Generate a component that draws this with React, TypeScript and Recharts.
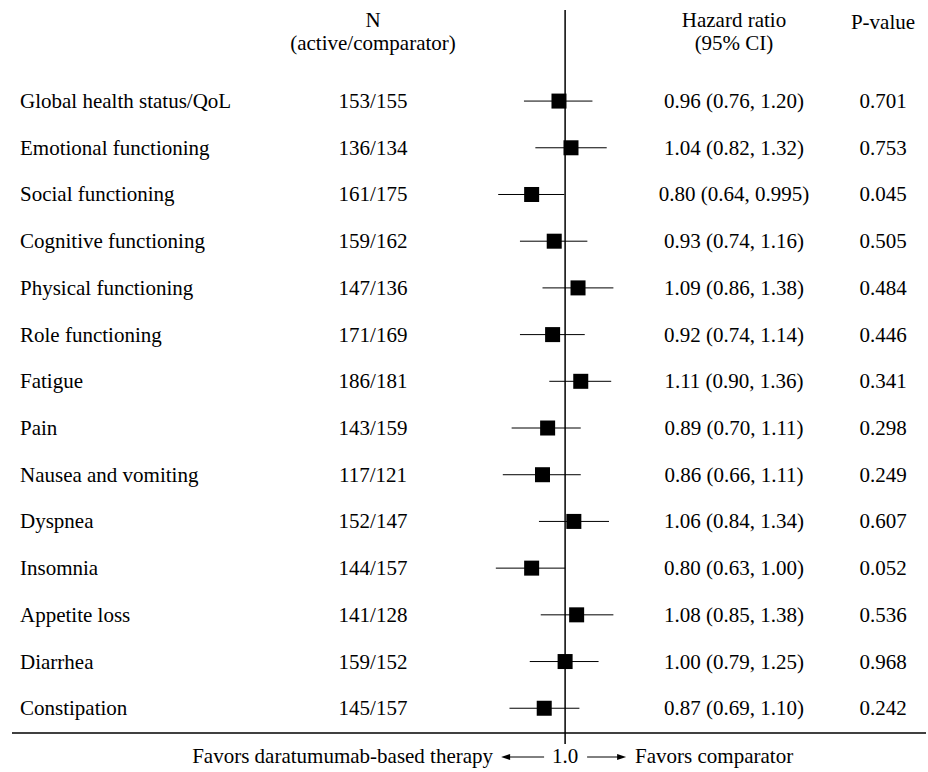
import React from 'react';
import { ScatterChart, Scatter, XAxis, YAxis, ErrorBar, ReferenceLine } from 'recharts';

const labels = [
  'Global health status/QoL',
  'Emotional functioning',
  'Social functioning',
  'Cognitive functioning',
  'Physical functioning',
  'Role functioning',
  'Fatigue',
  'Pain',
  'Nausea and vomiting',
  'Dyspnea',
  'Insomnia',
  'Appetite loss',
  'Diarrhea',
  'Constipation',
];
const nCounts = [
  '153/155', '136/134', '161/175', '159/162', '147/136', '171/169', '186/181',
  '143/159', '117/121', '152/147', '144/157', '141/128', '159/152', '145/157',
];
const hazard = [0.96, 1.04, 0.8, 0.93, 1.09, 0.92, 1.11, 0.89, 0.86, 1.06, 0.8, 1.08, 1.0, 0.87];
const lower = [0.76, 0.82, 0.64, 0.74, 0.86, 0.74, 0.9, 0.7, 0.66, 0.84, 0.63, 0.85, 0.79, 0.69];
const upper = [1.2, 1.32, 0.995, 1.16, 1.38, 1.14, 1.36, 1.11, 1.11, 1.34, 1.0, 1.38, 1.25, 1.1];
const pValues = [
  '0.701', '0.753', '0.045', '0.505', '0.484', '0.446', '0.341',
  '0.298', '0.249', '0.607', '0.052', '0.536', '0.968', '0.242',
];

const FONT = '"Liberation Serif", "Times New Roman", serif';
const TXT = { fontFamily: FONT, fontSize: 21, fill: '#000' };

// two decimals unless the value needs three (0.995)
const fmt = (v: number) => {
  const s = v.toFixed(3);
  return s.endsWith('0') ? v.toFixed(2) : s;
};

const rows = labels.map((name, i) => ({
  name,
  row: i,
  hr: hazard[i],
  ci: [hazard[i] - lower[i], upper[i] - hazard[i]],
}));

const COL_LABEL = 20;
const COL_N = 373;
const COL_HR = 734;
const COL_P = 883;

// table text for one row, placed on the row's y from the scale
function RowText({ cy, payload }: any) {
  const i = payload.row;
  const base = cy + 7;
  return (
    <g>
      <text x={COL_LABEL} y={base} textAnchor="start" style={TXT}>{labels[i]}</text>
      <text x={COL_N} y={base} textAnchor="middle" style={TXT}>{nCounts[i]}</text>
      <text x={COL_HR} y={base} textAnchor="middle" style={TXT}>
        {`${fmt(hazard[i])} (${fmt(lower[i])}, ${fmt(upper[i])})`}
      </text>
      <text x={COL_P} y={base} textAnchor="middle" style={TXT}>{pValues[i]}</text>
    </g>
  );
}

function FavorsTick({ x, y }: any) {
  const base = y + 17;
  const ay = base - 6;
  return (
    <g>
      <text x={x - 72} y={base} textAnchor="end" style={TXT}>Favors daratumumab-based therapy</text>
      <line x1={x - 21} y1={ay} x2={x - 58} y2={ay} stroke="#000" strokeWidth={1} />
      <polygon points={`${x - 64},${ay} ${x - 55},${ay - 3} ${x - 55},${ay + 3}`} fill="#000" />
      <text x={x} y={base} textAnchor="middle" style={TXT}>1.0</text>
      <line x1={x + 22} y1={ay} x2={x + 55} y2={ay} stroke="#000" strokeWidth={1} />
      <polygon points={`${x + 61},${ay} ${x + 52},${ay - 3} ${x + 52},${ay + 3}`} fill="#000" />
      <text x={x + 70} y={base} textAnchor="start" style={TXT}>Favors comparator</text>
    </g>
  );
}

function Square({ cx, cy }: any) {
  return <rect x={cx - 7.5} y={cy - 7.5} width={15} height={15} fill="#000" />;
}

export default function App() {
  return (
    <div style={{ position: 'absolute', left: 0, top: 0, width: 928, height: 772, background: '#fff' }}>
      <ScatterChart width={928} height={772} margin={{ top: 10, right: 2, bottom: 0, left: 12 }}>
        <XAxis
          type="number"
          dataKey="hr"
          scale="log"
          domain={[0.025, 11.1]}
          allowDataOverflow
          ticks={[1]}
          height={39}
          axisLine={{ stroke: '#000', strokeWidth: 1.5 }}
          tickLine={{ stroke: '#000', strokeWidth: 1.5 }}
          tickSize={11}
          tick={<FavorsTick />}
        />
        <YAxis
          type="number"
          dataKey="row"
          domain={[-1.95, 13.53]}
          reversed
          allowDataOverflow
          hide
        />
        <ReferenceLine x={1} stroke="#000" strokeWidth={1.5} />
        <Scatter data={rows} shape={<RowText />} isAnimationActive={false} />
        <Scatter data={rows} shape={<Square />} isAnimationActive={false}>
          <ErrorBar dataKey="ci" direction="x" width={0} stroke="#000" strokeWidth={1} />
        </Scatter>
        <g>
          <text x={COL_N} y={27} textAnchor="middle" style={TXT}>N</text>
          <text x={COL_N} y={50} textAnchor="middle" style={TXT}>(active/comparator)</text>
          <text x={COL_HR} y={27} textAnchor="middle" style={TXT}>Hazard ratio</text>
          <text x={COL_HR} y={50} textAnchor="middle" style={TXT}>(95% CI)</text>
          <text x={COL_P} y={29} textAnchor="middle" style={TXT}>P-value</text>
        </g>
      </ScatterChart>
    </div>
  );
}
